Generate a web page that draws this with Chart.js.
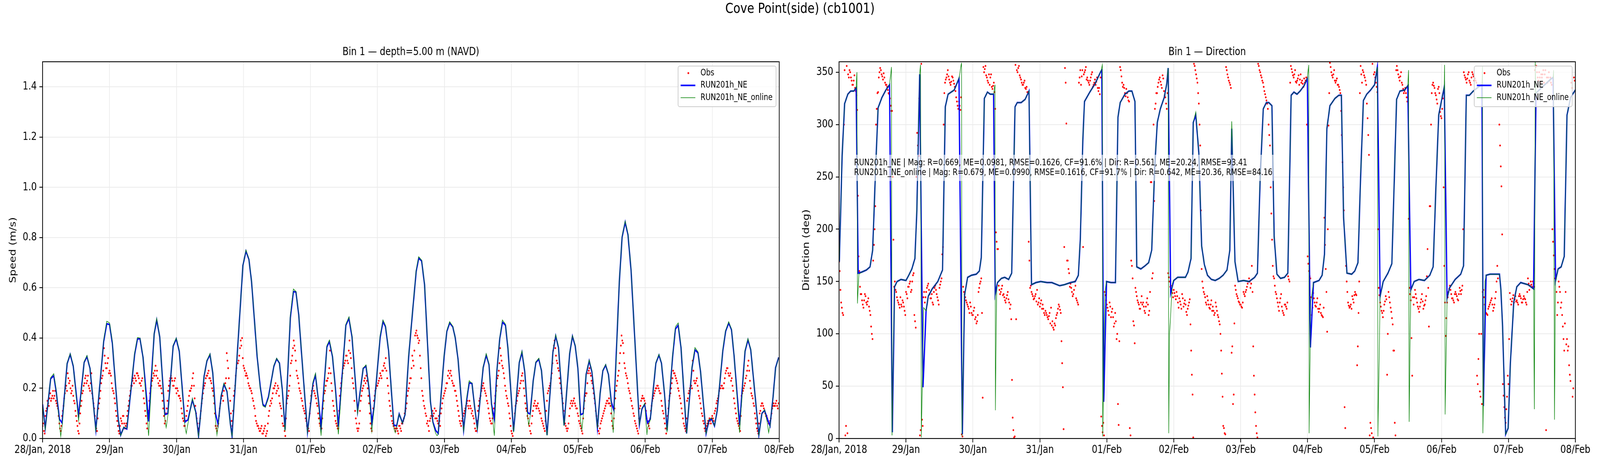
<!DOCTYPE html>
<html>
<head>
<meta charset="utf-8">
<title>Cove Point(side) (cb1001)</title>
<script src="https://cdn.jsdelivr.net/npm/chart.js@4.4.1/dist/chart.umd.min.js"></script>
<style>
  html, body { margin: 0; padding: 0; background: #fff; overflow: hidden; }
  #view { position: relative; overflow: hidden; width: 5000px; height: 1200px; }
  #fig { position: absolute; left: 0; top: 0; width: 5000px; height: 1200px; transform-origin: 0 0; font-family: 'DejaVu Sans', sans-serif; }
  #suptitle { position: absolute; left: 0; top: 3px; width: 5000px; text-align: center; font-size: 36px; line-height: 36px; color: #000; }
  .panel { position: absolute; top: 0; width: 2500px; height: 1200px; }
</style>
</head>
<body>
<div id="view">
<div id="fig">
  <div id="suptitle">Cove Point(side) (cb1001)</div>
  <div class="panel" style="left:0"><canvas id="speedChart" width="2500" height="1200"></canvas></div>
  <div class="panel" style="left:2500px"><canvas id="dirChart" width="2500" height="1200"></canvas></div>
</div>
</div>
<script>
// --- AXES ---
const dayTicks = [0, 24, 48, 72, 96, 120, 144, 168, 192, 216, 240, 264];
const dayLabels = ['28/Jan, 2018', '29/Jan', '30/Jan', '31/Jan', '01/Feb', '02/Feb', '03/Feb', '04/Feb', '05/Feb', '06/Feb', '07/Feb', '08/Feb'];
const speedTicks = [0, 0.2, 0.4, 0.6, 0.8, 1.0, 1.2, 1.4];
const dirTicks = [0, 50, 100, 150, 200, 250, 300, 350];

// --- SPEED (m/s), hours from 28/Jan 00:00 ---
const speedHours = [
  0, 0.95, 2.9, 4.0, 4.85, 6.06, 6.5, 7.0, 8.8, 9.9,
  11.0, 12.9, 14.9, 15.9, 17.0, 19.1, 21.9, 23.0, 24.0, 25.0,
  27.1, 28.0, 29.1, 30.2, 33.0, 34.0, 34.9, 36.0, 38.0, 40.0,
  40.9, 42.0, 43.8, 44.3, 44.9, 46.8, 47.9, 49.0, 51.0, 51.5,
  52.1, 53.7, 54.9, 55.9, 57.9, 58.9, 60.0, 61.0, 62.0, 62.5,
  62.9, 64.0, 65.0, 66.1, 67.3, 67.9, 71.8, 72.9, 73.95, 74.9,
  76.9, 78.0, 78.96, 79.8, 80.95, 82.9, 83.9, 84.9, 85.9, 86.9,
  88.8, 89.9, 90.8, 91.8, 92.7, 93.9, 94.95, 96.9, 97.8, 98.9,
  99.8, 101.9, 102.8, 103.9, 104.9, 106.0, 108.7, 109.8, 110.9, 112.9,
  114.9, 115.9, 116.9, 118.0, 118.8, 121.0, 122.0, 122.9, 124.0, 124.9,
  125.9, 126.4, 126.9, 127.8, 129.0, 129.9, 131.2, 132.7, 133.9, 134.8,
  135.85, 136.9, 139.0, 139.9, 140.9, 141.4, 141.8, 142.85, 143.9, 144.9,
  145.9, 147.0, 147.9, 148.9, 149.9, 150.9, 152.0, 152.9, 153.9, 154.8,
  155.8, 156.85, 157.9, 159.0, 160.0, 160.9, 161.9, 162.8, 163.85, 164.8,
  165.9, 166.8, 168.8, 169.8, 170.85, 171.8, 172.8, 173.8, 174.2, 174.75,
  175.85, 176.8, 177.85, 178.8, 180.8, 182.9, 183.9, 184.9, 186.9, 188.9,
  189.9, 190.9, 191.85, 192.8, 193.3, 193.75, 194.8, 195.9, 196.85, 198.0,
  198.85, 199.8, 200.8, 201.8, 202.8, 203.8, 204.5, 204.75, 206.7, 207.7,
  208.8, 209.8, 210.9, 213.9, 214.8, 215.8, 216.6, 216.8, 217.8, 219.8,
  220.9, 221.8, 222.9, 223.8, 225.75, 226.8, 227.8, 228.8, 230.8, 232.75,
  233.8, 234.9, 235.8, 237.8, 238.8, 239.8, 240.8, 241.8, 243.8, 244.8,
  245.9, 246.9, 247.8, 249.8, 251.75, 252.8, 253.8, 256.7, 257.8, 258.75,
  259.8, 260.2, 260.7, 261.8, 262.7, 263.8
];
const speedNE = [
  .136, .041, .238, .25, .19, .077, .07, .062, .298, .335,
  .288, .089, .303, .326, .279, .035, .386, .457, .454, .38,
  .077, .014, .044, .038, .335, .396, .398, .323, .068, .416,
  .472, .404, .095, .097, .10, .368, .397, .347, .065, .07,
  .074, .154, .106, .011, .249, .309, .334, .261, .098, .075,
  .056, .169, .216, .187, .059, .011, .689, .746, .713, .624,
  .326, .207, .136, .127, .166, .288, .317, .30, .196, .035,
  .481, .585, .583, .493, .356, .178, .026, .219, .252, .148,
  .047, .365, .386, .326, .207, .047, .451, .478, .404, .109,
  .279, .288, .207, .065, .124, .404, .466, .445, .35, .207,
  .053, .052, .05, .098, .062, .095, .326, .517, .665, .718,
  .707, .612, .148, .065, .032, .025, .02, .178, .326, .427,
  .46, .445, .401, .315, .178, .035, .154, .222, .219, .13,
  .041, .16, .282, .332, .294, .136, .077, .267, .398, .463,
  .451, .356, .029, .16, .303, .343, .267, .106, .10, .098,
  .231, .303, .315, .27, .014, .344, .408, .362, .053, .338,
  .407, .368, .279, .095, .097, .10, .255, .309, .267, .148,
  .041, .178, .27, .292, .255, .148, .12, .112, .624, .802,
  .861, .811, .671, .056, .118, .136, .075, .062, .077, .30,
  .332, .30, .178, .032, .32, .436, .451, .362, .02, .282,
  .353, .341, .267, .02, .071, .077, .05, .112, .35, .427,
  .46, .433, .332, .053, .347, .393, .353, .014, .10, .112,
  .077, .065, .05, .166, .282, .323
];
const speedOnline = [
  .136, .035, .242, .258, .195, .06, .008, .05, .30, .338,
  .29, .07, .305, .33, .28, .03, .39, .467, .46, .385,
  .075, .012, .045, .04, .34, .402, .40, .325, .011, .42,
  .478, .405, .08, .044, .09, .37, .40, .35, .05, .02,
  .06, .16, .10, .008, .25, .31, .338, .262, .07, .014,
  .05, .17, .22, .19, .055, .01, .69, .75, .715, .625,
  .33, .20, .13, .125, .16, .29, .32, .30, .19, .03,
  .49, .595, .585, .495, .36, .18, .022, .225, .26, .14,
  .011, .37, .392, .33, .20, .017, .455, .484, .41, .10,
  .28, .293, .21, .029, .12, .41, .472, .45, .352, .21,
  .04, .023, .05, .098, .06, .095, .33, .52, .67, .724,
  .71, .615, .145, .06, .02, .011, .02, .18, .33, .43,
  .465, .447, .40, .315, .175, .03, .16, .23, .22, .13,
  .035, .16, .285, .338, .295, .13, .011, .265, .40, .472,
  .455, .36, .025, .16, .305, .348, .27, .09, .053, .09,
  .232, .305, .32, .27, .012, .345, .412, .365, .05, .34,
  .41, .37, .28, .07, .035, .09, .256, .312, .27, .15,
  .04, .18, .272, .295, .255, .14, .023, .09, .625, .805,
  .865, .815, .675, .055, .12, .14, .014, .04, .075, .302,
  .335, .30, .18, .025, .325, .445, .46, .365, .02, .285,
  .362, .345, .27, .02, .075, .082, .05, .115, .355, .43,
  .465, .435, .335, .023, .35, .398, .355, .012, .10, .115,
  .06, .023, .05, .165, .28, .322
];
// observed speed: A = on the hour and half hour, B = quarter past / quarter to (10 hours per row)
const OBS_STEP_H = 0.5;
const obsSpeed = [
  .05,.03, .09,.12, .14,.16, .15,.17, .16,.19, .14,.12, .06,.03, .09,.13, .18,.21, .26,.22,
  .20,.19, .17,.14, .09,.05, .02,.10, .15,.19, .22,.25, .23,.21, .19,.26, .16,.12, .06,.03,
  .12,.16, .22,.25, .36,.30, .28,.32, .27,.25, .20,.18, .14,.09, .05,.02, .08,.06, .09,.04,
  .06,.11, .15,.19, .21,.24, .25,.23, .26,.24, .22,.23, .19,.14, .09,.04, .11,.18, .21,.24,
  .25,.29, .27,.22, .23,.20, .15,.09, .07,.12, .19,.23, .25,.23, .21,.24, .18,.19, .17,.15,
  .10,.07, .05,.09, .13,.17, .19,.21, .26,.16, .10,.06, .03,.08, .14,.18, .21,.24, .25,.27,
  .24,.22, .19,.14, .05,.03, .06,.12, .16,.17, .19,.22, .34,.28, .20,.10, .05,.17, .21,.28,
  .30,.33, .39,.40, .29,.27, .26,.24, .21,.20, .18,.15, .12,.07, .05,.04, .03,.05, .02,.04,
  .01,.03, .09,.13, .14,.18, .20,.22, .19,.20, .14,.12, .06,.05, .01,.14, .17,.21, .30,.33,
  .39,.35, .27,.24, .20,.18, .15,.12, .10,.07, .05,.03, .14,.19, .21,.18, .16,.13, .08,.05,
  .04,.12, .18,.21, .23,.26, .35,.22, .15,.11, .07,.05, .04,.17, .22,.26, .29,.31, .33,.30,
  .39,.32, .24,.20, .11,.06, .03,.06, .15,.19, .21,.24, .25,.20, .14,.06, .03,.12, .17,.20,
  .21,.23, .26,.24, .27,.30, .32,.24, .18,.13, .09,.06, .05,.03, .04,.02, .05,.03, .06,.08,
  .11,.14, .19,.22, .24,.33, .29,.41, .43,.40, .39,.28, .19,.15, .12,.09, .07,.03, .08,.10,
  .09,.12, .11,.07, .09,.05, .12,.16, .18,.20, .22,.27, .26,.25, .22,.21, .19,.15, .11,.07,
  .05,.08, .10,.12, .14,.13, .15,.12, .11,.08, .04,.03, .11,.15, .17,.20, .22,.19, .17,.14,
  .10,.07, .06,.10, .14,.19, .24,.27, .36,.31, .28,.24, .19,.16, .13,.08, .03,.01, .06,.13,
  .15,.18, .20,.23, .26,.20, .14,.11, .08,.05, .02,.09, .13,.15, .12,.14, .11,.10, .07,.05,
  .03,.11, .18,.20, .22,.26, .35,.39, .33,.30, .27,.22, .18,.14, .08,.05, .03,.06, .12,.15,
  .14,.16, .13,.12, .09,.06, .04,.02, .12,.17, .18,.26, .28,.25, .22,.18, .14,.09, .05,.02,
  .06,.08, .10,.12, .14,.15, .16,.13, .07,.04, .12,.19, .23,.27, .34,.41, .38,.30, .26,.24,
  .20,.18, .15,.12, .09,.06, .04,.02, .12,.15, .17,.16, .14,.08, .06,.04, .11,.15, .17,.19,
  .20,.21, .19,.18, .13,.10, .06,.02, .09,.15, .18,.22, .27,.26, .24,.22, .19,.16, .12,.08,
  .05,.03, .15,.18, .20,.21, .31,.23, .22,.24, .19,.16, .12,.09, .06,.03, .05,.07, .08,.06,
  .09,.07, .11,.14, .16,.19, .20,.21, .20,.24, .27,.28, .25,.26, .24,.19, .14,.10, .07,.05,
  .03,.17, .19,.21, .24,.27, .31,.23, .18,.16, .13,.08, .04,.02, .10,.13, .14,.12, .10,.09,
  .07,.06, .08,.12, .14,.13, .15,.12
];
const obsSpeedB = [
  .06,.02, .11,.15, .13,.18, .16,.19, .17,.15, .13,.09, .04,.05, .11,.16, .20,.19, .24,.23,
  .18,.21, .15,.11, .07,.03, .06,.13, .18,.21, .24,.22, .25,.20, .22,.18, .14,.09, .04,.08,
  .14,.19, .24,.27, .33,.28, .30,.26, .26,.22, .19,.16, .11,.07, .03,.05, .07,.09, .06,.05,
  .09,.13, .17,.21, .23,.22, .24,.26, .25,.22, .21,.24, .16,.11, .06,.08, .15,.20, .23,.26,
  .27,.25, .24,.21, .21,.18, .12,.06, .10,.15, .21,.24, .24,.21, .23,.20, .20,.17, .16,.12,
  .08,.05, .07,.11, .15,.19, .20,.24, .21,.13, .08,.04, .06,.11, .16,.20, .22,.25, .26,.24,
  .23,.20, .17,.10, .04,.05, .09,.14, .17,.15, .21,.24, .31,.24, .15,.07, .11,.19, .25,.30,
  .31,.36, .37,.32, .28,.25, .25,.22, .20,.19, .16,.13, .09,.06, .05,.03, .04,.02, .03,.05,
  .02,.06, .11,.15, .16,.20, .21,.18, .21,.17, .13,.09, .05,.03, .08,.16, .19,.25, .31,.36,
  .37,.31, .25,.22, .19,.16, .13,.11, .08,.05, .04,.10, .17,.20, .19,.17, .14,.10, .06,.04,
  .08,.15, .19,.23, .24,.28, .26,.19, .13,.09, .06,.04, .11,.20, .24,.28, .30,.33, .31,.35,
  .34,.28, .22,.15, .08,.04, .04,.11, .17,.20, .23,.22, .23,.17, .10,.04, .08,.15, .19,.21,
  .22,.24, .25,.27, .29,.28, .27,.21, .15,.11, .07,.05, .04,.04, .03,.05, .04,.06, .07,.10,
  .12,.17, .20,.24, .28,.31, .35,.42, .41,.38, .33,.24, .17,.13, .10,.06, .05,.07, .09,.11,
  .10,.08, .08,.06, .07,.10, .14,.17, .19,.22, .25,.24, .27,.23, .21,.19, .17,.13, .09,.06,
  .07,.09, .11,.13, .15,.12, .13,.10, .09,.06, .03,.07, .13,.16, .19,.21, .20,.18, .15,.12,
  .08,.06, .08,.12, .17,.21, .25,.30, .33,.29, .26,.21, .17,.14, .10,.05, .02,.04, .10,.14,
  .17,.19, .22,.25, .23,.17, .12,.09, .06,.03, .06,.11, .14,.13, .13,.12, .10,.08, .06,.04,
  .07,.15, .19,.21, .24,.30, .37,.36, .31,.28, .24,.20, .16,.11, .06,.04, .04,.09, .14,.13,
  .15,.14, .12,.10, .07,.05, .03,.08, .15,.18, .22,.27, .26,.23, .20,.16, .11,.07, .03,.04,
  .07,.09, .11,.13, .15,.14, .14,.10, .05,.08, .16,.21, .25,.30, .37,.39, .34,.28, .25,.22,
  .19,.16, .13,.10, .07,.05, .03,.08, .13,.16, .16,.15, .11,.07, .05,.08, .13,.16, .18,.20,
  .21,.20, .18,.15, .11,.08, .04,.05, .12,.17, .20,.24, .26,.25, .23,.20, .17,.14, .10,.06,
  .04,.08, .16,.19, .21,.20, .27,.22, .23,.21, .17,.14, .10,.07, .04,.04, .06,.06, .07,.08,
  .08,.10, .12,.15, .17,.20, .21,.20, .22,.26, .28,.26, .25,.23, .21,.16, .12,.08, .06,.04,
  .09,.18, .20,.22, .25,.29, .27,.20, .17,.14, .10,.06, .03,.06, .11,.14, .13,.11, .09,.08,
  .06,.07, .10,.13, .13,.14, .13,.14
];

// --- DIRECTION (deg) ---
const dirNEHours = [
  0.1, 1.1, 2.0, 3.15, 4.16, 5.3, 6.13, 6.86, 8.1, 9.8,
  11.1, 12.05, 13.0, 14.0, 15.4, 16.8, 18.1, 19.1, 19.9, 20.8,
  22.2, 24.0, 25.0, 26.1, 27.2, 27.9, 28.9, 30.1, 31.2, 32.0,
  33.4, 35.4, 37.1, 38.1, 39.1, 41.3, 43.0, 44.2, 45.0, 46.1,
  47.5, 49.2, 50.3, 51.0, 52.1, 53.2, 54.2, 55.4, 56.0, 56.8,
  58.2, 59.4, 60.8, 61.9, 63.1, 63.9, 65.3, 66.7, 68.1, 69.0,
  70.6, 72.3, 74.6, 76.3, 79.1, 80.8, 83.0, 84.7, 85.8, 86.5,
  87.4, 88.0, 89.9, 91.8, 93.9, 94.2, 94.9, 95.9, 97.5, 99.1,
  100.0, 100.8, 102.5, 103.9, 105.0, 106.1, 106.75, 108.2, 109.7, 111.0,
  112.1, 113.2, 114.1, 115.2, 116.6, 117.5, 118.0, 118.9, 120.0, 121.4,
  124.2, 125.1, 126.2, 127.0, 127.9, 129.0, 130.0, 131.0, 132.1, 133.5,
  134.9, 136.3, 137.7, 139.1, 140.1, 140.8, 141.95, 143.1, 145.05, 147.0,
  149.0, 150.0, 151.0, 152.1, 153.2, 154.1, 155.2, 156.0, 157.0, 158.3,
  159.7, 160.9, 162.1, 163.1, 164.2, 165.3, 166.7, 167.9, 169.0, 170.1,
  172.1, 173.2, 174.05, 174.9, 176.0, 177.8, 179.2, 180.1, 180.9, 182.1,
  183.8, 184.9, 186.05, 187.0, 188.0, 189.2, 190.6, 192.0, 193.0, 194.0,
  195.1, 196.8, 198.2, 199.1, 199.9, 201.1, 202.8, 203.9, 205.0, 206.2,
  207.9, 209.9, 211.8, 213.0, 214.0, 215.0, 216.1, 217.0, 218.0, 218.9,
  220.9, 222.9, 223.9, 224.9, 226.0, 227.4, 228.8, 230.5, 231.0, 232.0,
  233.4, 236.8, 237.3, 237.9, 239.0, 239.9, 240.7, 241.9, 243.0, 244.4,
  247.0, 249.0, 249.9, 251.0, 253.0, 255.0, 256.0, 256.9, 257.8, 258.9,
  260.0, 261.0, 262.3, 264.0
];
const dirNE = [
  169, 270, 320, 329, 332, 332, 335, 158, 159, 161,
  164, 180, 250, 316, 326, 333, 338, 6, 145, 150,
  152, 151, 156, 162, 172, 218, 348, 49, 122, 136,
  143, 150, 161, 317, 329, 333, 344, 4, 137, 154,
  156, 157, 160, 173, 325, 331, 329, 329, 138, 149,
  153, 154, 152, 158, 317, 321, 321, 324, 332, 147,
  149, 150, 149, 149, 146, 147, 149, 150, 156, 190,
  285, 322, 331, 339, 351, 352, 35, 150, 149, 149,
  307, 321, 329, 332, 332, 322, 164, 162, 165, 168,
  180, 260, 302, 315, 326, 339, 354, 139, 151, 154,
  154, 159, 172, 302, 309, 273, 184, 166, 156, 152,
  151, 153, 156, 161, 180, 296, 169, 150, 151, 150,
  154, 158, 250, 315, 321, 321, 318, 193, 157, 153,
  154, 158, 328, 331, 329, 332, 337, 344, 87, 149,
  151, 156, 176, 296, 318, 325, 328, 328, 211, 158,
  157, 160, 168, 250, 323, 329, 333, 338, 355, 136,
  150, 158, 167, 250, 324, 332, 333, 337, 142, 150,
  152, 151, 156, 164, 240, 309, 324, 336, 134, 144,
  152, 157, 165, 328, 328, 332, 335, 338, 31, 156,
  157, 157, 142, 107, 4, 10, 72, 130, 145, 149,
  147, 143, 330, 333, 338, 343, 345, 151, 162, 164,
  174, 309, 326, 333
];
const dirOnlineHours = [
  0.1, 1.1, 2.0, 3.15, 4.16, 5.3, 6.13, 6.4, 6.6, 7.1,
  8.1, 9.8, 11.1, 12.05, 13.0, 14.0, 15.4, 16.8, 18.1, 18.8,
  19.0, 19.9, 20.8, 22.2, 24.0, 25.0, 26.1, 27.2, 27.9, 28.9,
  29.2, 29.5, 30.35, 31.2, 32.0, 33.4, 35.4, 37.1, 38.1, 39.1,
  41.3, 43.0, 43.9, 44.1, 45.0, 46.1, 47.5, 49.2, 50.3, 51.0,
  52.1, 53.2, 54.2, 55.4, 55.9, 56.05, 56.5, 56.8, 58.2, 59.4,
  60.8, 61.9, 63.1, 63.9, 65.3, 66.7, 68.1, 69.0, 70.6, 72.3,
  74.6, 76.3, 79.1, 80.8, 83.0, 84.7, 85.8, 86.5, 87.4, 88.0,
  89.9, 91.8, 93.9, 94.4, 94.55, 95.3, 95.9, 97.5, 99.1, 100.0,
  100.8, 102.5, 103.9, 105.0, 106.1, 106.75, 108.2, 109.7, 111.0, 112.1,
  113.2, 114.1, 115.2, 116.6, 117.5, 118.0, 118.2, 118.5, 119.5, 120.0,
  121.4, 124.2, 125.1, 126.2, 127.0, 127.9, 129.0, 130.0, 131.0, 132.1,
  133.5, 134.9, 136.3, 137.7, 139.1, 140.1, 140.8, 141.95, 143.1, 145.05,
  147.0, 149.0, 150.0, 151.0, 152.1, 153.2, 154.1, 155.2, 156.0, 157.0,
  158.3, 159.7, 160.9, 162.1, 163.1, 164.2, 165.3, 166.7, 167.9, 168.4,
  168.55, 169.1, 170.1, 172.1, 173.2, 174.05, 174.9, 176.0, 177.8, 179.2,
  180.1, 180.9, 182.1, 183.8, 184.9, 186.05, 187.0, 188.0, 189.2, 190.6,
  192.0, 193.0, 193.2, 194.0, 195.1, 196.8, 198.2, 199.1, 199.9, 201.1,
  202.8, 203.9, 204.2, 204.4, 205.0, 206.2, 207.9, 209.9, 211.8, 213.0,
  214.0, 215.0, 216.1, 217.0, 217.1, 217.3, 218.0, 218.9, 220.9, 222.9,
  223.9, 224.9, 226.0, 227.4, 228.8, 230.5, 230.7, 230.85, 231.6, 232.0,
  233.4, 236.8, 237.3, 237.9, 239.0, 239.9, 240.7, 241.9, 243.0, 244.4,
  247.0, 249.0, 249.3, 249.6, 249.9, 251.0, 253.0, 255.0, 256.0, 256.2,
  256.5, 256.9, 257.8, 258.9, 260.0, 261.0, 262.3, 264.0
];
const dirOnline = [
  169, 270, 320, 329, 332, 332, 335, 350, 129, 157,
  159, 161, 164, 180, 250, 316, 326, 333, 338, 355,
  3, 145, 150, 152, 151, 156, 162, 172, 218, 348,
  357, 1, 125, 122, 136, 143, 150, 161, 317, 329,
  333, 344, 359, 2, 137, 154, 156, 157, 160, 173,
  325, 331, 329, 329, 338, 27, 140, 149, 153, 154,
  152, 158, 317, 321, 321, 324, 332, 147, 149, 150,
  149, 149, 146, 147, 149, 150, 156, 190, 285, 322,
  331, 339, 351, 357, 2, 140, 150, 149, 149, 307,
  321, 329, 332, 332, 322, 164, 162, 165, 168, 180,
  260, 302, 315, 326, 339, 354, 5, 100, 148, 151,
  154, 154, 159, 172, 302, 312, 273, 184, 166, 156,
  152, 151, 153, 156, 161, 180, 303, 169, 150, 151,
  150, 154, 158, 250, 315, 321, 321, 318, 193, 157,
  153, 154, 158, 328, 331, 329, 332, 337, 344, 357,
  5, 130, 149, 151, 156, 176, 296, 318, 325, 328,
  328, 211, 158, 157, 160, 168, 250, 323, 329, 333,
  338, 355, 2, 136, 150, 158, 167, 250, 324, 332,
  333, 337, 352, 16, 142, 150, 152, 151, 156, 164,
  240, 309, 324, 336, 357, 23, 134, 144, 152, 157,
  165, 328, 328, 332, 335, 338, 356, 5, 150, 156,
  157, 157, 142, 107, 4, 10, 72, 130, 145, 149,
  147, 143, 28, 360, 330, 333, 338, 343, 345, 352,
  18, 150, 162, 164, 174, 309, 326, 333
];
// observed direction, same A/B sampling as speed (10 hours per row)
const obsDir = [
  169,142, 125,118, 352,12, 5,345, 350,342, 338,347, 332,314, 174,145, 138,128, 132,136,
  128,134, 122,107, 95,185, 222,315, 331,350, 352,346, 349,340, 338,333, 329,318, 313,190,
  150,140, 132,128, 135,126, 130,122, 140,134, 145,150, 142,156, 118,106, 292,270, 3,358,
  12,140, 135,144, 148,138, 134,130, 140,146, 138,132, 144,150, 176,300, 340,345, 352,343,
  338,346, 342,336, 326,318, 322,314, 4,145, 138,132, 128,124, 130,120, 118,125, 116,112,
  140,148, 153,39, 350,356, 345,340, 338,348, 334,340, 315,188, 181,142, 140,146, 138,132,
  134,140, 130,128, 56,8, 2,114, 350,356, 345,340, 338,342, 334,331, 188,144, 140,136,
  134,138, 142,130, 126,132, 128,120, 122,118, 114,120, 125,112, 104,108, 118,124, 126,120,
  72,9, 354,301, 170,158, 148,140, 138,150, 134,130, 340,352, 346,183, 350,355, 345,340,
  342,348, 336,340, 338,345, 332,329, 21,6, 3,137, 128,122, 130,116, 124,107, 120,95,
  33,93, 352,340, 338,330, 334,326, 322,3, 165,112, 91,140, 132,128, 124,136, 130,122,
  126,134, 118,140, 245,158, 227,320, 330,340, 345,338, 347,332, 326,315, 158,150, 146,139,
  142,136, 140,130, 134,128, 138,126, 132,121, 124,130, 109,61, 1,356, 348,340, 320,280,
  162,144, 138,130, 136,128, 124,132, 126,118, 130,122, 116,109, 84,40, 10,4, 352,345,
  340,335, 88,42, 146,138, 134,130, 128,125, 140,136, 142,148, 153,144, 165,88, 42,12,
  1,356, 350,345, 340,332, 326,320, 300,280, 215,165, 153,140, 134,126, 130,138, 122,118,
  128,124, 155,150, 356,350, 345,352, 340,344, 338,348, 342,336, 340,345, 174,160, 153,118,
  139,130, 126,134, 121,128, 118,116, 211,162, 102,299, 359,350, 345,352, 340,344, 338,333,
  313,264, 218,10, 150,130, 125,128, 136,130, 140,137, 88,150, 356,340, 350,345, 338,306,
  271,15, 5,1, 350,340, 331,144, 130,122, 116,128, 136,61, 140,130, 121,109, 84,3,
  356,348, 342,350, 338,330, 335,326, 322,144, 132,60, 128,142, 134,126, 121,130, 138,124,
  128,136, 181,107, 222,330, 340,335, 328,320, 336,312, 306,325, 165,98, 130,140, 146,138,
  134,130, 140,136, 132,144, 138,146, 350,345, 340,348, 342,338, 350,346, 344,340, 52,100,
  40,33, 142,128, 120,118, 126,130, 134,122, 128,140, 165,336, 280,241, 52,30, 15,40,
  52,139, 128,134, 130,136, 132,128, 138,134, 130,136, 133,128, 153,142, 150,145, 148,352,
  356,345, 350,340, 345,352, 348,8, 340,350, 345,338, 188,162, 153,118, 150,140, 130,107,
  84,140, 95,88, 61,340, 40,345
];
const obsDirB = [
  160,130, 120,300, 3,356, 348,352, 345,338, 342,335, 328,232, 160,138, 132,125, 138,130,
  131,126, 118,100, 170,200, 300,330, 345,354, 348,343, 345,338, 336,330, 325,313, 250,145,
  142,135, 130,125, 128,132, 126,118, 138,145, 148,140, 150,158, 112,250, 280,325, 8,18,
  135,130, 140,146, 142,134, 138,128, 144,142, 135,128, 147,153, 183,330, 343,348, 346,340,
  341,345, 339,332, 322,315, 318,326, 2,140, 135,130, 126,120, 126,118, 122,114, 110,118,
  144,150, 120,355, 353,347, 342,348, 345,336, 337,331, 197,181, 146,138, 143,137, 135,130,
  137,133, 124,114, 20,1, 357,352, 354,347, 343,338, 340,335, 336,331, 170,146, 138,133,
  136,131, 128,134, 129,124, 124,118, 120,116, 117,110, 108,106, 110,115, 120,128, 123,93,
  49,183, 340,170, 162,145, 144,136, 142,146, 132,128, 345,338, 352,348, 352,343, 342,338,
  345,350, 338,343, 341,335, 335,345, 12,15, 140,132, 125,118, 126,121, 116,110, 112,100,
  13,355, 346,336, 335,327, 330,323, 10,170, 153,108, 144,136, 130,124, 130,128, 126,120,
  130,128, 122,245, 153,300, 315,330, 336,343, 341,335, 344,328, 320,330, 154,145, 142,135,
  139,133, 136,125, 131,124, 134,129, 128,118, 127,133, 84,42, 358,352, 344,330, 300,218,
  150,140, 135,128, 132,125, 128,122, 122,120, 126,118, 112,100, 62,12, 5,355, 348,342,
  338,82, 33,110, 142,136, 131,128, 126,130, 138,140, 145,150, 150,148, 140,60, 25,5,
  358,352, 347,342, 336,329, 323,315, 290,240, 190,155, 146,138, 130,122, 134,126, 120,128,
  126,130, 152,340, 353,347, 348,341, 342,347, 343,340, 339,344, 342,300, 167,155, 135,125,
  134,127, 130,124, 124,120, 117,125, 185,140, 200,330, 355,347, 348,342, 342,338, 336,330,
  290,240, 30,165, 140,127, 126,124, 133,137, 138,70, 120,330, 348,352, 347,342, 320,290,
  3,10, 358,348, 345,336, 200,137, 126,120, 122,131, 133,100, 135,125, 115,84, 15,352,
  352,345, 346,340, 334,332, 330,322, 210,138, 96,135, 135,138, 130,124, 126,133, 131,127,
  132,155, 144,222, 300,338, 337,330, 324,334, 330,308, 315,240, 130,115, 135,143, 142,134,
  132,138, 138,133, 138,141, 142,200, 347,343, 344,350, 340,345, 348,342, 342,60, 76,45,
  100,140, 135,124, 119,124, 128,132, 128,125, 134,150, 153,300, 260,195, 41,20, 28,60,
  95,133, 131,137, 133,131, 130,136, 136,130, 133,134, 130,140, 148,146, 147,150, 145,355,
  350,342, 345,348, 348,340, 352,345, 345,342, 340,200, 175,153, 140,130, 145,125, 118,95,
  110,90, 84,70, 55,335, 48,342
];

const statsLines = [
  'RUN201h_NE | Mag: R=0.669, ME=0.0981, RMSE=0.1626, CF=91.6% | Dir: R=0.561, ME=20.24, RMSE=93.41',
  'RUN201h_NE_online | Mag: R=0.679, ME=0.0990, RMSE=0.1616, CF=91.7% | Dir: R=0.642, ME=20.36, RMSE=84.16'
];

// --- HELPERS ---
const FONT = "'DejaVu Sans'";
Chart.defaults.font.family = FONT;
Chart.defaults.font.size = 27.8;
Chart.defaults.color = '#000';

function pts(xs, ys) { return xs.map((x, i) => ({ x, y: ys[i] })); }
function obsPts(vals, offset) { return vals.map((v, i) => ({ x: offset + i * OBS_STEP_H, y: v })); }

// keep the whole 5000x1200 figure inside whatever viewport we get
function fitFigure() {
  const w = window.innerWidth || 5000, h = window.innerHeight || 1200;
  const view = document.getElementById('view');
  view.style.width = w + 'px'; view.style.height = h + 'px';
  document.getElementById('fig').style.transform = `scale(${w / 5000}, ${h / 1200})`;
}

// spines, subplot title, stats box, legend box
const decor = {
  id: 'decor',
  afterDraw(chart, args, o) {
    const { ctx, chartArea: a } = chart;
    ctx.save();
    ctx.strokeStyle = '#000'; ctx.lineWidth = 2.2;
    ctx.strokeRect(a.left, a.top, a.right - a.left, a.bottom - a.top);

    if (o.stats) {
      ctx.font = `22.2px ${FONT}`;
      const x = a.left + 47, y0 = a.top + 238;
      const w = Math.max(...o.stats.map(s => ctx.measureText(s).width));
      ctx.fillStyle = 'rgba(255,255,255,0.6)';
      ctx.fillRect(x - 4, y0, w + 8, 67);
      ctx.fillStyle = '#000'; ctx.textAlign = 'left'; ctx.textBaseline = 'middle';
      o.stats.forEach((s, i) => ctx.fillText(s, x, y0 + 21 + i * 25));
    }

    // legend (upper right)
    const bx = a.right - 316, by = a.top + 11, bw = 306, bh = 104;
    ctx.beginPath();
    if (ctx.roundRect) ctx.roundRect(bx, by, bw, bh, 5); else ctx.rect(bx, by, bw, bh);
    ctx.fillStyle = 'rgba(255,255,255,0.8)'; ctx.fill();
    ctx.strokeStyle = '#cccccc'; ctx.lineWidth = 2.2; ctx.stroke();
    ctx.font = `22.2px ${FONT}`; ctx.textAlign = 'left'; ctx.textBaseline = 'middle';
    chart.data.datasets.forEach((ds, i) => {
      const ry = by + 18 + i * 31.5;
      if (ds.showLine === false) {
        ctx.beginPath(); ctx.arc(bx + 32, ry, 2.6, 0, Math.PI * 2);
        ctx.fillStyle = ds.pointBackgroundColor; ctx.fill();
      } else {
        ctx.beginPath(); ctx.moveTo(bx + 8, ry); ctx.lineTo(bx + 54, ry);
        ctx.strokeStyle = ds.borderColor; ctx.lineWidth = ds.borderWidth; ctx.stroke();
      }
      ctx.fillStyle = '#000';
      ctx.fillText(ds.label, bx + 70, ry);
    });

    ctx.font = `27.8px ${FONT}`; ctx.textAlign = 'center'; ctx.textBaseline = 'alphabetic';
    ctx.fillStyle = '#000';
    ctx.fillText(o.title, (a.left + a.right) / 2, a.top - 17);
    ctx.restore();
  }
};

function makePanel(id, cfg) {
  const grid = { color: '#ebebeb', lineWidth: 2, drawTicks: true, tickLength: 10, tickColor: '#000', tickWidth: 2.2 };
  return new Chart(document.getElementById(id), {
    type: 'line',
    data: {
      datasets: [
        { label: 'Obs', data: cfg.obs, showLine: false, pointRadius: 2.5, pointBackgroundColor: '#ff0000', pointBorderWidth: 0, borderColor: '#ff0000', order: 3 },
        { label: 'RUN201h_NE', data: cfg.ne, showLine: true, borderColor: '#0000ff', borderWidth: 4, pointRadius: 0, tension: 0, order: 2 },
        { label: 'RUN201h_NE_online', data: cfg.online, showLine: true, borderColor: '#008000', borderWidth: 1.6, pointRadius: 0, tension: 0, order: 1 }
      ]
    },
    options: {
      responsive: false, animation: false, devicePixelRatio: 1, events: [],
      layout: { padding: cfg.padding },
      plugins: { legend: { display: false }, tooltip: { enabled: false }, decor: { title: cfg.title, stats: cfg.stats } },
      scales: {
        x: {
          type: 'linear', min: 0, max: 264,
          afterBuildTicks: s => { s.ticks = dayTicks.map(v => ({ value: v })); },
          afterFit: s => { s.height = 60; },
          ticks: { callback: (v, i) => dayLabels[i], autoSkip: false, maxRotation: 0, minRotation: 0, padding: 3 },
          grid, border: { display: false }
        },
        y: {
          type: 'linear', min: 0, max: cfg.yMax,
          afterBuildTicks: s => { s.ticks = cfg.yTicks.map(v => ({ value: v })); },
          afterFit: s => { s.width = cfg.yWidth; },
          ticks: { callback: cfg.fmt, padding: 8 },
          grid, border: { display: false },
          title: { display: true, text: cfg.yTitle, padding: 0 }
        }
      }
    },
    plugins: [decor]
  });
}

// --- RENDER ---
fitFigure();
makePanel('speedChart', {
  title: 'Bin 1 \u2014 depth=5.00 m (NAVD)', yTitle: 'Speed (m/s)',
  obs: [...obsPts(obsSpeed, 0), ...obsPts(obsSpeedB, 0.25)],
  ne: pts(speedHours, speedNE), online: pts(speedHours, speedOnline),
  yMax: 1.5, yTicks: speedTicks, fmt: v => v.toFixed(1), yWidth: 108,
  padding: { left: 25, right: 65, top: 158, bottom: 18 }
});
makePanel('dirChart', {
  title: 'Bin 1 \u2014 Direction', yTitle: 'Direction (deg)', stats: statsLines,
  obs: [...obsPts(obsDir, 0), ...obsPts(obsDirB, 0.25)],
  ne: pts(dirNEHours, dirNE), online: pts(dirOnlineHours, dirOnline),
  yMax: 360, yTicks: dirTicks, fmt: v => String(v), yWidth: 118,
  padding: { left: 4, right: 77, top: 158, bottom: 18 }
});
</script>
</body>
</html>
